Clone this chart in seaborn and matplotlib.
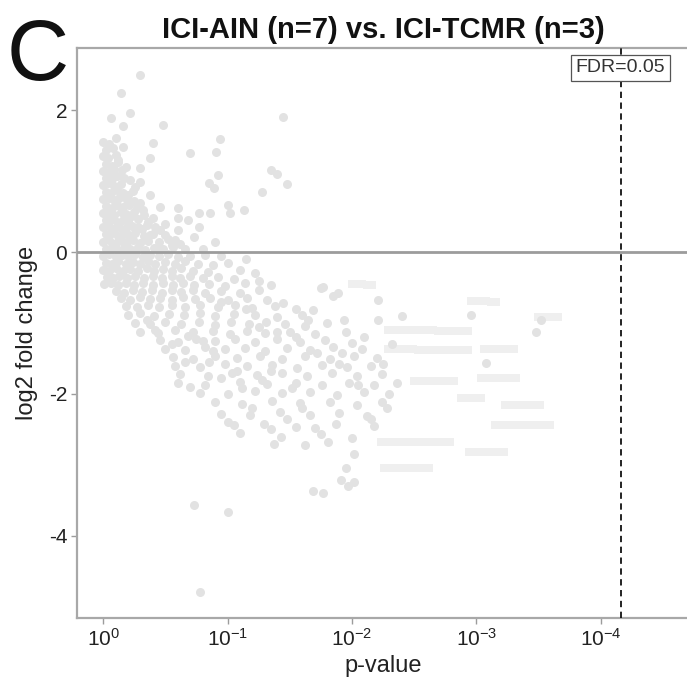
import matplotlib
matplotlib.use("Agg")
import matplotlib.pyplot as plt
import seaborn as sns
import pandas as pd

sns.set_theme(style="white")
plt.rcParams["font.family"] = ["Liberation Sans", "DejaVu Sans"]
plt.rcParams["mathtext.fontset"] = "custom"
plt.rcParams["mathtext.rm"] = "Liberation Sans"
plt.rcParams["mathtext.default"] = "regular"
plt.rcParams["axes.unicode_minus"] = False

# ---- data: (-log10 p-value, log2 fold change) per gene ----
upregulated_sparse = [
    (0.30, 2.50), (0.14, 2.25), (0.22, 1.96), (0.06, 1.89), (0.16, 1.78), (0.48, 1.79),
    (0.10, 1.61), (0.40, 1.54), (0.16, 1.48), (0.94, 1.60), (0.70, 1.40), (0.91, 1.41),
    (0.38, 1.33), (1.35, 1.16), (1.40, 1.10), (0.30, 1.19), (0.15, 1.16), (0.92, 1.09),
    (0.85, 0.97), (0.89, 0.90), (1.28, 0.85), (0.30, 0.99), (0.22, 1.02), (0.38, 0.80),
    (1.00, 0.66), (1.13, 0.59), (1.02, 0.55), (0.86, 0.55), (0.77, 0.55), (0.77, 0.36),
    (0.60, 0.62), (0.60, 0.48), (0.68, 0.45), (0.46, 0.64), (0.46, 0.31), (0.30, 0.69),
    (0.28, 0.35), (0.35, 0.38), (0.38, 0.24), (0.22, 0.49), (0.60, 0.31), (1.45, 1.90),
    (1.48, 0.96), (0.73, 0.22), (0.52, 0.18), (0.90, 0.15), (0.55, 0.10), (0.20, 0.80),
    (0.26, 0.92), (0.32, 0.60), (0.40, 0.48), (0.50, 0.40), (0.12, 1.30), (0.08, 1.10),
    (0.25, 0.72), (0.18, 1.20), (0.44, 0.05), (0.62, 0.12), (0.80, 0.05),
]

upregulated_dense = [
    (0.00, 1.55), (0.05, 1.52), (0.02, 1.44), (0.08, 1.47), (0.00, 1.35), (0.04, 1.33),
    (0.10, 1.37), (0.02, 1.25), (0.07, 1.22), (0.12, 1.27), (0.00, 1.15), (0.05, 1.13),
    (0.09, 1.17), (0.02, 1.05), (0.07, 1.03), (0.11, 1.07), (0.17, 1.04), (0.00, 0.95),
    (0.04, 0.97), (0.09, 0.93), (0.14, 0.96), (0.02, 0.85), (0.06, 0.83), (0.11, 0.87),
    (0.16, 0.84), (0.24, 0.86), (0.00, 0.75), (0.05, 0.77), (0.09, 0.73), (0.13, 0.76),
    (0.19, 0.74), (0.02, 0.65), (0.07, 0.63), (0.11, 0.67), (0.16, 0.64), (0.21, 0.66),
    (0.27, 0.62), (0.00, 0.55), (0.04, 0.57), (0.09, 0.53), (0.14, 0.56), (0.18, 0.54),
    (0.25, 0.57), (0.33, 0.53), (0.02, 0.45), (0.06, 0.47), (0.11, 0.43), (0.16, 0.46),
    (0.20, 0.44), (0.28, 0.47), (0.36, 0.43), (0.00, 0.35), (0.05, 0.37), (0.09, 0.33),
    (0.13, 0.36), (0.18, 0.34), (0.23, 0.37), (0.31, 0.33), (0.42, 0.36), (0.02, 0.25),
    (0.07, 0.27), (0.12, 0.23), (0.16, 0.26), (0.21, 0.24), (0.26, 0.27), (0.33, 0.23),
    (0.40, 0.26), (0.50, 0.24), (0.00, 0.15), (0.05, 0.17), (0.10, 0.13), (0.15, 0.16),
    (0.19, 0.14), (0.24, 0.17), (0.30, 0.13), (0.36, 0.16), (0.45, 0.14), (0.58, 0.17),
    (0.02, 0.05), (0.07, 0.07), (0.12, 0.03), (0.17, 0.06), (0.22, 0.04), (0.28, 0.07),
    (0.34, 0.03), (0.41, 0.06), (0.48, 0.04), (0.56, 0.07), (0.66, 0.05),
]

downregulated_dense = [
    (0.00, -0.05), (0.05, -0.03), (0.10, -0.07), (0.15, -0.04), (0.20, -0.06), (0.26, -0.03),
    (0.32, -0.07), (0.38, -0.04), (0.45, -0.06), (0.52, -0.03), (0.60, -0.07), (0.70, -0.05),
    (0.82, -0.04), (0.02, -0.15), (0.07, -0.17), (0.12, -0.13), (0.18, -0.16), (0.24, -0.14),
    (0.30, -0.17), (0.36, -0.13), (0.42, -0.16), (0.50, -0.14), (0.58, -0.17), (0.66, -0.13),
    (0.76, -0.16), (0.88, -0.18), (1.00, -0.15), (0.00, -0.25), (0.05, -0.27), (0.10, -0.23),
    (0.16, -0.26), (0.22, -0.24), (0.28, -0.27), (0.35, -0.23), (0.41, -0.26), (0.48, -0.24),
    (0.55, -0.27), (0.63, -0.23), (0.72, -0.26), (0.84, -0.28), (1.10, -0.25), (1.22, -0.30),
    (0.03, -0.35), (0.08, -0.37), (0.13, -0.33), (0.19, -0.36), (0.26, -0.34), (0.33, -0.37),
    (0.40, -0.33), (0.47, -0.36), (0.55, -0.34), (0.62, -0.37), (0.70, -0.33), (0.80, -0.36),
    (0.92, -0.35), (1.05, -0.38), (0.01, -0.45), (0.06, -0.43), (0.12, -0.47), (0.18, -0.44),
    (0.25, -0.46), (0.32, -0.43), (0.40, -0.47), (0.48, -0.44), (0.56, -0.46), (0.64, -0.43),
    (0.73, -0.47), (0.85, -0.45), (0.98, -0.48), (1.14, -0.44), (0.10, -0.55), (0.17, -0.57),
    (0.24, -0.53), (0.31, -0.56), (0.39, -0.54), (0.47, -0.57), (0.55, -0.53), (0.63, -0.56),
    (0.72, -0.54), (0.82, -0.57), (0.95, -0.55), (1.10, -0.58), (1.25, -0.54), (0.14, -0.65),
    (0.22, -0.67), (0.30, -0.63), (0.38, -0.66), (0.46, -0.64), (0.55, -0.67), (0.64, -0.63),
    (0.74, -0.66), (0.86, -0.64), (1.00, -0.67), (1.16, -0.65), (1.32, -0.68), (0.18, -0.76),
    (0.27, -0.78), (0.36, -0.74), (0.45, -0.77), (0.55, -0.75), (0.66, -0.78), (0.78, -0.74),
    (0.92, -0.77), (1.06, -0.75), (1.20, -0.79), (1.38, -0.76), (1.55, -0.80), (0.20, -0.88),
    (0.30, -0.86), (0.41, -0.90), (0.53, -0.87), (0.65, -0.89), (0.78, -0.86), (0.90, -0.90),
    (1.05, -0.87), (1.22, -0.89), (1.40, -0.92), (1.60, -0.88), (0.95, -0.05), (1.15, -0.10),
]

downregulated_spread = [
    (0.26, -1.00), (0.38, -1.02), (0.50, -0.98), (0.63, -1.01), (0.77, -0.99), (0.90, -1.03),
    (1.03, -0.99), (1.17, -1.02), (1.31, -0.98), (1.46, -1.01), (1.62, -1.04), (1.80, -1.00),
    (0.30, -1.12), (0.44, -1.14), (0.58, -1.10), (0.72, -1.13), (0.88, -1.11), (1.02, -1.15),
    (1.16, -1.11), (1.30, -1.14), (1.50, -1.12), (1.70, -1.16), (1.95, -1.13), (0.46, -1.24),
    (0.60, -1.26), (0.75, -1.22), (0.90, -1.25), (1.06, -1.23), (1.22, -1.27), (1.40, -1.23),
    (1.58, -1.26), (1.78, -1.24), (2.00, -1.28), (0.50, -1.36), (0.66, -1.38), (0.82, -1.34),
    (0.98, -1.37), (1.14, -1.35), (1.30, -1.39), (1.48, -1.35), (1.66, -1.38), (1.85, -1.34),
    (2.08, -1.37), (0.56, -1.48), (0.72, -1.50), (0.90, -1.46), (1.08, -1.49), (1.26, -1.47),
    (1.44, -1.51), (1.62, -1.47), (1.82, -1.50), (2.02, -1.46), (2.20, -1.49), (0.58, -1.60),
    (0.78, -1.62), (0.98, -1.58), (1.16, -1.61), (1.36, -1.59), (1.56, -1.63), (1.76, -1.59),
    (1.96, -1.62), (2.15, -1.60), (0.62, -1.72), (0.84, -1.74), (1.04, -1.70), (1.24, -1.73),
    (1.44, -1.71), (1.64, -1.75), (1.84, -1.71), (2.04, -1.74), (2.24, -1.72), (0.60, -1.85),
    (0.82, -1.87), (1.10, -1.83), (1.32, -1.86), (1.55, -1.84), (1.76, -1.88), (1.98, -1.84),
    (2.18, -1.87), (2.36, -1.85), (0.78, -1.98), (1.00, -2.00), (1.22, -1.96), (1.44, -1.99),
    (1.66, -1.97), (1.88, -2.01), (2.10, -1.97), (2.30, -2.00), (0.90, -2.12), (1.12, -2.14),
    (1.36, -2.10), (1.58, -2.13), (1.82, -2.11), (2.04, -2.15), (2.24, -2.11), (0.95, -2.28),
    (1.18, -2.30), (1.42, -2.26), (1.66, -2.29), (1.90, -2.27), (2.12, -2.31), (1.05, -2.44),
    (1.29, -2.42), (1.55, -2.46), (1.87, -2.43), (2.18, -2.45), (1.43, -2.60), (1.75, -2.57),
    (2.00, -2.62), (1.37, -2.70), (1.81, -2.68), (2.02, -2.84), (1.95, -3.05), (1.91, -3.22),
    (2.02, -3.24), (1.97, -3.30), (1.69, -3.37), (1.77, -3.39), (0.73, -3.57), (1.00, -3.67),
    (0.78, -4.80), (0.35, -0.95), (0.55, -1.30), (0.68, -1.18), (0.85, -1.55), (0.95, -1.78),
    (1.12, -1.92), (1.25, -1.05), (1.35, -1.68), (1.52, -1.92), (1.60, -2.20), (1.72, -1.42),
    (1.90, -1.58), (2.05, -1.88), (2.15, -2.35), (1.20, -2.20), (1.00, -2.40), (1.48, -2.35),
    (1.70, -2.48), (0.70, -1.90), (0.66, -1.55), (0.42, -1.10), (0.80, -1.25), (1.08, -1.68),
    (1.28, -1.80), (1.40, -1.12), (1.92, -1.42), (2.25, -1.58), (2.32, -1.30), (1.65, -0.95),
    (1.45, -0.72), (1.25, -0.40), (1.15, -0.80), (0.95, -0.70), (0.88, -1.40), (1.55, -1.20),
    (2.10, -1.20), (2.28, -2.20), (1.35, -2.50), (1.62, -2.72), (1.10, -2.55),
    (1.35, -0.47), (1.75, -0.51), (1.89, -0.58), (1.77, -0.49), (2.21, -0.68), (1.69, -0.82),
    (1.94, -0.96), (2.21, -0.96), (1.85, -0.62), (2.40, -0.90), (2.96, -0.89), (3.52, -0.95),
    (3.48, -1.13), (3.08, -1.57),
]

# genes sharing a fold change across a run of p-values (rank-tied results)
tied_fold_change_runs = [
    (2.00, -0.45), (2.04, -0.45), (2.08, -0.45), (2.12, -0.46), (2.16, -0.46),
    (2.96, -0.69), (3.00, -0.69), (3.04, -0.69), (3.08, -0.69), (3.12, -0.70), (3.16, -0.70),
    (3.50, -0.91), (3.54, -0.91), (3.58, -0.91), (3.62, -0.92), (3.66, -0.92),
    (2.29, -1.10), (2.33, -1.10), (2.37, -1.10), (2.41, -1.10), (2.45, -1.10), (2.49, -1.10),
    (2.53, -1.10), (2.57, -1.10), (2.61, -1.10), (2.65, -1.10), (2.69, -1.11), (2.73, -1.11),
    (2.77, -1.11), (2.81, -1.11), (2.85, -1.11), (2.89, -1.11), (2.93, -1.11),
    (2.29, -1.37), (2.33, -1.37), (2.37, -1.37), (2.41, -1.37), (2.45, -1.37), (2.49, -1.37),
    (2.53, -1.38), (2.57, -1.38), (2.61, -1.38), (2.65, -1.38), (2.69, -1.38), (2.73, -1.38),
    (2.77, -1.38), (2.81, -1.38), (2.85, -1.38), (2.89, -1.38), (2.93, -1.38),
    (3.06, -1.36), (3.10, -1.36), (3.14, -1.36), (3.18, -1.36), (3.22, -1.36), (3.26, -1.36),
    (3.30, -1.36),
    (2.50, -1.81), (2.54, -1.81), (2.58, -1.81), (2.62, -1.81), (2.66, -1.81), (2.70, -1.81),
    (2.74, -1.81), (2.78, -1.81), (2.82, -1.81),
    (3.04, -1.78), (3.08, -1.78), (3.12, -1.78), (3.16, -1.78), (3.20, -1.78), (3.24, -1.78),
    (3.28, -1.78), (3.32, -1.78),
    (2.88, -2.06), (2.92, -2.06), (2.96, -2.06), (3.00, -2.06), (3.04, -2.06),
    (3.23, -2.15), (3.27, -2.15), (3.31, -2.15), (3.35, -2.15), (3.39, -2.15), (3.43, -2.15),
    (3.47, -2.15), (3.51, -2.16),
    (3.15, -2.44), (3.19, -2.44), (3.23, -2.44), (3.27, -2.44), (3.31, -2.44), (3.35, -2.44),
    (3.39, -2.44), (3.43, -2.44), (3.47, -2.44), (3.51, -2.44), (3.55, -2.44), (3.59, -2.44),
    (2.23, -2.68), (2.27, -2.68), (2.31, -2.68), (2.35, -2.68), (2.39, -2.68), (2.43, -2.68),
    (2.47, -2.68), (2.51, -2.68), (2.55, -2.68), (2.59, -2.68), (2.63, -2.68), (2.67, -2.68),
    (2.71, -2.68), (2.75, -2.68), (2.79, -2.68),
    (2.94, -2.82), (2.98, -2.82), (3.02, -2.82), (3.06, -2.82), (3.10, -2.82), (3.14, -2.82),
    (3.18, -2.82), (3.22, -2.82),
    (2.26, -3.05), (2.30, -3.05), (2.34, -3.05), (2.38, -3.05), (2.42, -3.05), (2.46, -3.05),
    (2.50, -3.05), (2.54, -3.05), (2.58, -3.05), (2.62, -3.05),
]

fdr_cutoff_neg_log10_p = 4.16
x_ticks = [0, 1, 2, 3, 4]
x_tick_labels = ["$10^{0}$", "$10^{-1}$", "$10^{-2}$", "$10^{-3}$", "$10^{-4}$"]
y_ticks = [-4, -2, 0, 2]
y_tick_labels = ["-4", "-2", "0", "2"]
title = "ICI-AIN (n=7) vs. ICI-TCMR (n=3)"

cols = ["neg_log10_p", "log2_fc"]
genes = pd.DataFrame(
    upregulated_sparse + upregulated_dense + downregulated_dense + downregulated_spread,
    columns=cols,
)
tied = pd.DataFrame(tied_fold_change_runs, columns=cols)

fig = plt.figure(figsize=(6.87, 6.90), dpi=100)
ax = fig.add_axes([77 / 687, 1 - 618 / 690, 612 / 687, 570 / 690])

sns.scatterplot(data=tied, x="neg_log10_p", y="log2_fc", ax=ax,
                color="#efefef", s=32, linewidth=0, marker="s", zorder=2)
sns.scatterplot(data=genes, x="neg_log10_p", y="log2_fc", ax=ax,
                color="#e2e2e2", s=42, linewidth=0, marker="o", zorder=2)

ax.axhline(0, color="#9c9c9c", lw=2.0, zorder=3)
ax.axvline(fdr_cutoff_neg_log10_p, color="#111111", lw=1.3,
           ls=(0, (3.5, 2.5)), zorder=3)
ax.text(fdr_cutoff_neg_log10_p, 2.60, "FDR=0.05", ha="center", va="center",
        fontsize=14, color="#333333", zorder=6,
        bbox=dict(boxstyle="square,pad=0.22", fc="white", ec="#555555", lw=0.9))

ax.set_xlim(-0.21, 4.71)
ax.set_ylim(-5.16, 2.88)
ax.set_xticks(x_ticks)
ax.set_xticklabels(x_tick_labels)
ax.set_yticks(y_ticks)
ax.set_yticklabels(y_tick_labels)
ax.tick_params(axis="both", which="major", direction="out", length=4, width=1,
               color="#9c9c9c", labelsize=15, labelcolor="#222222", pad=3,
               bottom=True, left=True)

for side in ("left", "bottom", "top"):
    ax.spines[side].set_color("#a8a8a8")
    ax.spines[side].set_linewidth(1.6)
ax.spines["right"].set_visible(False)

ax.set_xlabel("p-value", fontsize=17, color="#222222", labelpad=4)
ax.set_ylabel("log2 fold change", fontsize=17, color="#222222", labelpad=8)

fig.text(383 / 687, 1 - 30 / 690, title, ha="center", va="center",
         fontsize=21, fontweight="bold", color="#111111")
fig.text(38 / 687, 1 - 58 / 690, "C", ha="center", va="center",
         fontsize=62, color="#111111")

fig.savefig("out.png", dpi=100)
